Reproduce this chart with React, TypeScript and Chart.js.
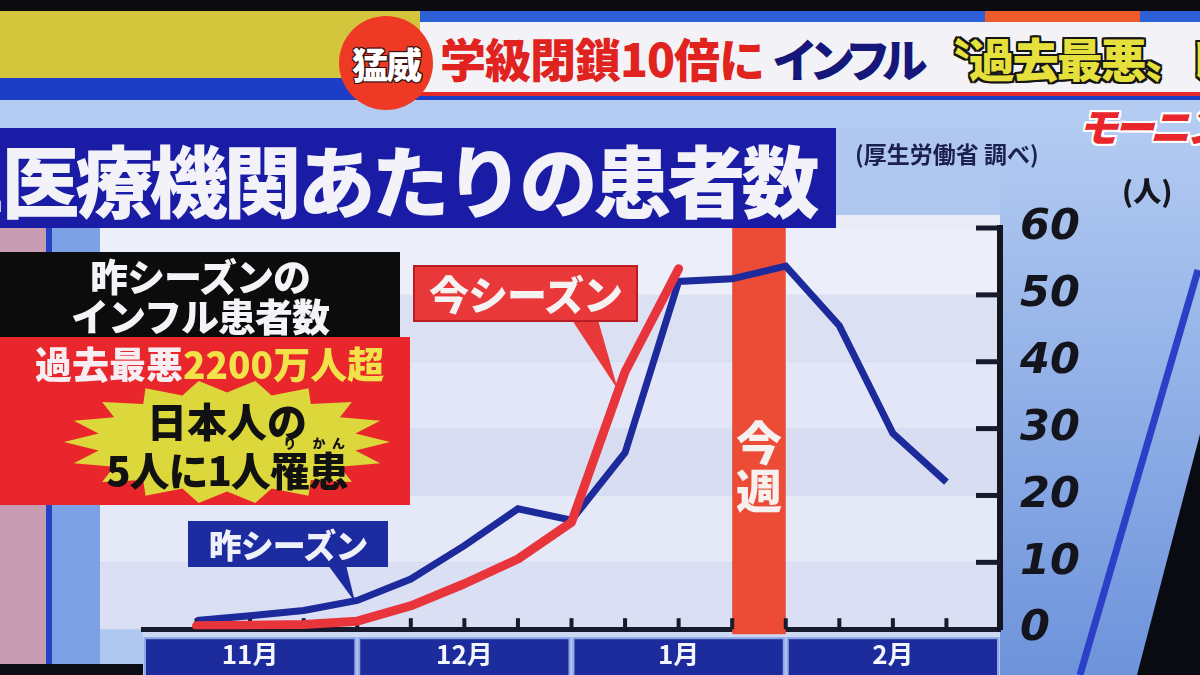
import React, { useEffect, useRef } from 'react';
import { Chart, registerables } from 'chart.js';

Chart.register(...registerables);

// ---------------- data ----------------
const WEEK_POSITIONS = [1, 2, 3, 4, 5, 6, 7, 8, 9, 10, 11, 12, 13, 14, 15];
const LAST_SEASON = [1.3, 2.0, 2.8, 4.3, 7.5, 12.5, 18.0, 16.3, 26.4, 52.0, 52.4, 54.3, 45.4, 29.3, 22.0];
const THIS_SEASON = [0.5, 0.6, 0.7, 1.2, 3.5, 6.8, 10.5, 16.0, 38.5, 53.9];
const SERIES_LABELS = ['今シーズン', '昨シーズン'];
const MONTH_LABELS = ['11月', '12月', '1月', '2月'];
const MONTH_CENTERS = [2, 6, 10, 14];
const MONTH_BOUNDS = [0, 4, 8, 12, 16];
const WEEK_TICKS = [1, 2, 3, 4, 5, 6, 7, 8, 9, 10, 11, 12, 13, 14, 15];
const Y_TICKS = [0, 10, 20, 30, 40, 50, 60];
const THIS_WEEK = [11, 12];

const JP = '"Noto Sans CJK JP", "Noto Sans", sans-serif';

const decorPlugin = {
  id: 'tvDecor',
  beforeDraw(chart: any) {
    const { ctx, chartArea: a, scales } = chart;
    const xs = scales.x;
    const ys = scales.y;
    ctx.save();
    const bandColors = ['#dadff3', '#e5e8f7', '#d9ddf2', '#e3e6f6', '#dce0f3', '#eceef9'];
    for (let i = 0; i < Y_TICKS.length - 1; i++) {
      const yb = ys.getPixelForValue(Y_TICKS[i]);
      const yt = ys.getPixelForValue(Y_TICKS[i + 1]);
      ctx.fillStyle = bandColors[i];
      ctx.fillRect(a.left - 43, yt, a.right - a.left + 43, yb - yt);
    }
    const x0 = xs.getPixelForValue(MONTH_BOUNDS[0]);
    const x1 = xs.getPixelForValue(MONTH_BOUNDS[MONTH_BOUNDS.length - 1]);
    ctx.fillStyle = '#cdd8f3';
    ctx.fillRect(x0, a.bottom, x1 - x0, 8);
    for (let m = 0; m < MONTH_LABELS.length; m++) {
      const l = xs.getPixelForValue(MONTH_BOUNDS[m]) + 2;
      const r = xs.getPixelForValue(MONTH_BOUNDS[m + 1]) - 2;
      const top = a.bottom + 9;
      ctx.fillStyle = '#1d2c9c';
      ctx.fillRect(l, top, r - l, chart.height - top);
      ctx.strokeStyle = '#8fa6e6';
      ctx.lineWidth = 2;
      ctx.strokeRect(l, top, r - l, chart.height - top + 4);
    }
    ctx.restore();
  },
  beforeDatasetsDraw(chart: any) {
    const { ctx, chartArea: a, scales } = chart;
    const xs = scales.x;
    const ys = scales.y;
    ctx.save();
    const bl = xs.getPixelForValue(THIS_WEEK[0]);
    const br = xs.getPixelForValue(THIS_WEEK[1]);
    ctx.fillStyle = '#ec4b36';
    ctx.fillRect(bl, a.top, br - bl, a.bottom - a.top + 5);
    ctx.strokeStyle = '#171a2c';
    ctx.lineWidth = 4;
    WEEK_TICKS.forEach((w) => {
      const px = xs.getPixelForValue(w);
      ctx.beginPath();
      ctx.moveTo(px, a.bottom);
      ctx.lineTo(px, a.bottom - 11);
      ctx.stroke();
    });
    ctx.lineWidth = 5;
    Y_TICKS.slice(1).forEach((v) => {
      const py = ys.getPixelForValue(v);
      ctx.beginPath();
      ctx.moveTo(a.right - 24, py);
      ctx.lineTo(a.right, py);
      ctx.stroke();
    });
    ctx.restore();
  },
};

function starPoints(cx: number, cy: number, rx: number, ry: number, spikes: number, inner: number) {
  const pts: string[] = [];
  for (let i = 0; i < spikes * 2; i++) {
    const ang = (Math.PI * i) / spikes;
    const f = i % 2 === 0 ? 1 : inner;
    pts.push(`${(cx + Math.cos(ang) * rx * f).toFixed(1)},${(cy + Math.sin(ang) * ry * f).toFixed(1)}`);
  }
  return pts.join(' ');
}

export default function App() {
  const canvasRef = useRef<HTMLCanvasElement>(null);

  useEffect(() => {
    const canvas = canvasRef.current;
    if (!canvas) return;
    const chart = new Chart(canvas, {
      type: 'line',
      data: {
        datasets: [
          {
            label: SERIES_LABELS[0],
            data: THIS_SEASON.map((v, i) => ({ x: WEEK_POSITIONS[i], y: v })),
            borderColor: '#e8353b',
            borderWidth: 9,
            pointRadius: 0,
            borderCapStyle: 'round',
            borderJoinStyle: 'round',
            tension: 0,
          },
          {
            label: SERIES_LABELS[1],
            data: LAST_SEASON.map((v, i) => ({ x: WEEK_POSITIONS[i], y: v })),
            borderColor: '#1c2a9c',
            borderWidth: 7,
            pointRadius: 0,
            borderJoinStyle: 'miter',
            tension: 0,
          },
        ],
      },
      options: {
        responsive: false,
        animation: false,
        devicePixelRatio: 1,
        events: [],
        layout: { padding: { left: 143, right: 92, top: 228, bottom: 0 } },
        plugins: { legend: { display: false }, tooltip: { enabled: false } },
        scales: {
          x: {
            type: 'linear',
            position: 'bottom',
            min: 0,
            max: 16,
            ticks: { display: false },
            grid: { display: false, drawTicks: false },
            border: { display: true, width: 5, color: '#171a2c' },
            afterFit: (s: any) => {
              s.height = 6;
            },
          },
          xMonth: {
            type: 'linear',
            position: 'bottom',
            min: 0,
            max: 16,
            afterBuildTicks: (s: any) => {
              s.ticks = MONTH_CENTERS.map((v) => ({ value: v }));
            },
            ticks: {
              autoSkip: false,
              maxRotation: 0,
              padding: 3,
              color: '#f4f6ff',
              font: { family: JP, size: 26, weight: 'bold' },
              callback: (v: any) => {
                const i = MONTH_CENTERS.indexOf(Number(v));
                return i >= 0 ? MONTH_LABELS[i] : '';
              },
            },
            grid: { display: false, drawTicks: false },
            border: { display: false },
            afterFit: (s: any) => {
              s.height = 31;
            },
          },
          y: {
            type: 'linear',
            position: 'right',
            min: 0,
            max: 60,
            afterBuildTicks: (s: any) => {
              s.ticks = Y_TICKS.map((v) => ({ value: v }));
            },
            ticks: {
              padding: 20,
              color: '#14141c',
              font: { family: '"DejaVu Sans", sans-serif', size: 43, weight: 'bold', style: 'italic' },
            },
            grid: { display: false, drawTicks: false },
            border: { display: true, width: 6, color: '#15151f' },
            afterFit: (s: any) => {
              s.width = 108;
            },
          },
        },
      } as any,
      plugins: [decorPlugin],
    });
    return () => chart.destroy();
  }, []);

  const abs = (o: any): React.CSSProperties => ({ position: 'absolute', ...o });
  const outline = (c: string, w: number) =>
    `${w}px 0 0 ${c}, -${w}px 0 0 ${c}, 0 ${w}px 0 ${c}, 0 -${w}px 0 ${c}, ${w}px ${w}px 0 ${c}, -${w}px -${w}px 0 ${c}, ${w}px -${w}px 0 ${c}, -${w}px ${w}px 0 ${c}`;

  return (
    <div style={{ position: 'fixed', left: 0, top: 0, width: 1200, height: 675, overflow: 'hidden', background: '#a6c0ec', fontFamily: JP }}>
      <svg width={1200} height={675} style={abs({ left: 0, top: 0 })}>
        <defs>
          <linearGradient id="rg" x1="0" y1="0" x2="0" y2="1">
            <stop offset="0" stopColor="#b3cbf2" />
            <stop offset="1" stopColor="#6d93db" />
          </linearGradient>
        </defs>
        <rect x={0} y={0} width={1200} height={11} fill="#0b0b10" />
        <rect x={0} y={11} width={440} height={68} fill="#d3c53c" />
        <rect x={420} y={11} width={780} height={14} fill="#2d5fd6" />
        <rect x={985} y={11} width={155} height={14} fill="#ef5a2a" />
        <rect x={0} y={78} width={1200} height={22} fill="#1d3dc6" />
        <rect x={0} y={100} width={1200} height={28} fill="#b4ccf1" />
        <rect x={0} y={128} width={1200} height={547} fill="#b0c8f0" />
        <rect x={1000} y={128} width={200} height={547} fill="url(#rg)" />
        <rect x={0} y={228} width={46} height={447} fill="#c89cb2" />
        <rect x={46} y={228} width={6} height={447} fill="#2443c2" />
        <rect x={52} y={228} width={48} height={447} fill="#7ea1e6" />
        <rect x={836} y={215} width={164} height={13} fill="#e9ebf7" />
        <line x1={1198} y1={270} x2={1080} y2={675} stroke="#2b40c6" strokeWidth={7} />
        <polygon points="1200,434 1200,675 1137,675" fill="#0a0a12" />
        <rect x={0} y={664} width={143} height={11} fill="#0d0d16" />
      </svg>

      {/* top banner */}
      <div style={abs({ left: 420, top: 22, width: 780, height: 70, background: '#f3f3f7' })} />
      <div style={abs({ left: 420, top: 92, width: 780, height: 4, background: '#e42a2a' })} />
      <div style={abs({ left: 440, top: 22, height: 70, lineHeight: '70px', fontSize: 46, fontWeight: 900, whiteSpace: 'nowrap', letterSpacing: -1 })}>
        <span style={{ color: '#e0231f' }}>学級閉鎖10倍に</span>
        <span style={{ color: '#15187a', marginLeft: 8, letterSpacing: -9 }}>インフル</span>
        <span style={{ color: '#e6e03c', marginLeft: 6, letterSpacing: -2, textShadow: outline('#151515', 2) }}>〝過去最悪〟レ</span>
      </div>
      <div style={abs({ left: 339, top: 16, width: 94, height: 94, borderRadius: '50%', background: '#ee3a24', color: '#fff', fontSize: 36, fontWeight: 900, lineHeight: '94px', textAlign: 'center', letterSpacing: -2, textShadow: outline('#3a1010', 1) })}>
        猛威
      </div>
      <div style={abs({ left: 1078, top: 96, fontSize: 40, fontWeight: 900, fontStyle: 'italic', color: '#e8262c', whiteSpace: 'nowrap', letterSpacing: -4, textShadow: outline('#ffffff', 2) })}>
        モーニングショー
      </div>

      <canvas ref={canvasRef} width={1200} height={675} style={abs({ left: 0, top: 0, width: 1200, height: 675 })} />

      {/* title */}
      <div style={abs({ left: 0, top: 128, width: 836, height: 100, background: '#1b1ca6', overflow: 'hidden' })}>
        <div style={abs({ left: -42, top: 0, height: 100, lineHeight: '100px', fontSize: 78, fontWeight: 900, color: '#f2f2f8', whiteSpace: 'nowrap', letterSpacing: -4 })}>
          1医療機関あたりの患者数
        </div>
      </div>
      <div style={abs({ left: 855, top: 136, fontSize: 23, fontWeight: 700, color: '#1c2050', whiteSpace: 'nowrap' })}>(厚生労働省 調べ)</div>
      <div style={abs({ left: 1122, top: 170, fontSize: 28, fontWeight: 900, color: '#15151f', whiteSpace: 'nowrap' })}>(人)</div>

      {/* info box */}
      <div style={abs({ left: 0, top: 252, width: 400, height: 85, background: '#0c0c0c', color: '#f4f4f8', textAlign: 'center', fontSize: 38, fontWeight: 900, lineHeight: '40px', paddingTop: 3, boxSizing: 'border-box', letterSpacing: -1 })}>
        <div>昨シーズンの</div>
        <div>インフル患者数</div>
      </div>
      <div style={abs({ left: 0, top: 337, width: 410, height: 168, background: '#e8262c' })} />
      <div style={abs({ left: 35, top: 339, fontSize: 37, fontWeight: 900, whiteSpace: 'nowrap', letterSpacing: 0, lineHeight: '48px' })}>
        <span style={{ color: '#f6eef2' }}>過去最悪</span>
        <span style={{ color: '#f2e24a' }}>2200万人超</span>
      </div>
      <svg width={1200} height={675} style={abs({ left: 0, top: 0, pointerEvents: 'none' })}>
        <polygon points={starPoints(227, 442, 163, 62, 18, 0.8)} fill="#dcd83c" />
        <polygon points="572,320 598,320 618,390" fill="#e8383a" />
        <polygon points="328,565 346,565 355,602" fill="#1d2ba0" />
      </svg>
      <div style={abs({ left: 27, top: 398, width: 400, textAlign: 'center', fontSize: 40, fontWeight: 900, color: '#111', lineHeight: '44px', whiteSpace: 'nowrap' })}>
        日本人の
      </div>
      <div style={abs({ left: 27, top: 436, width: 400, textAlign: 'center', fontSize: 40, fontWeight: 900, color: '#111', lineHeight: '56px', whiteSpace: 'nowrap', letterSpacing: -1 })}>
        5人に1人
        <ruby>
          罹<rt style={{ fontSize: 13 }}>り</rt>
        </ruby>
        <ruby>
          患<rt style={{ fontSize: 13 }}>かん</rt>
        </ruby>
      </div>

      {/* series callouts */}
      <div style={abs({ left: 413, top: 265, width: 225, height: 57, background: '#e8383a', border: '2px solid #b91c22', boxSizing: 'border-box', color: '#f6f2f2', fontSize: 40, fontWeight: 900, lineHeight: '52px', textAlign: 'center', letterSpacing: -1 })}>
        今シーズン
      </div>
      <div style={abs({ left: 188, top: 521, width: 200, height: 46, background: '#1d2ba0', color: '#eef0fa', fontSize: 33, fontWeight: 900, lineHeight: '46px', textAlign: 'center', letterSpacing: -1 })}>
        昨シーズン
      </div>

      {/* this week label */}
      <div style={abs({ left: 729, top: 416, width: 60, textAlign: 'center', fontSize: 46, fontWeight: 900, color: '#f6f0ee', lineHeight: '48px' })}>
        今<br />週
      </div>
    </div>
  );
}
